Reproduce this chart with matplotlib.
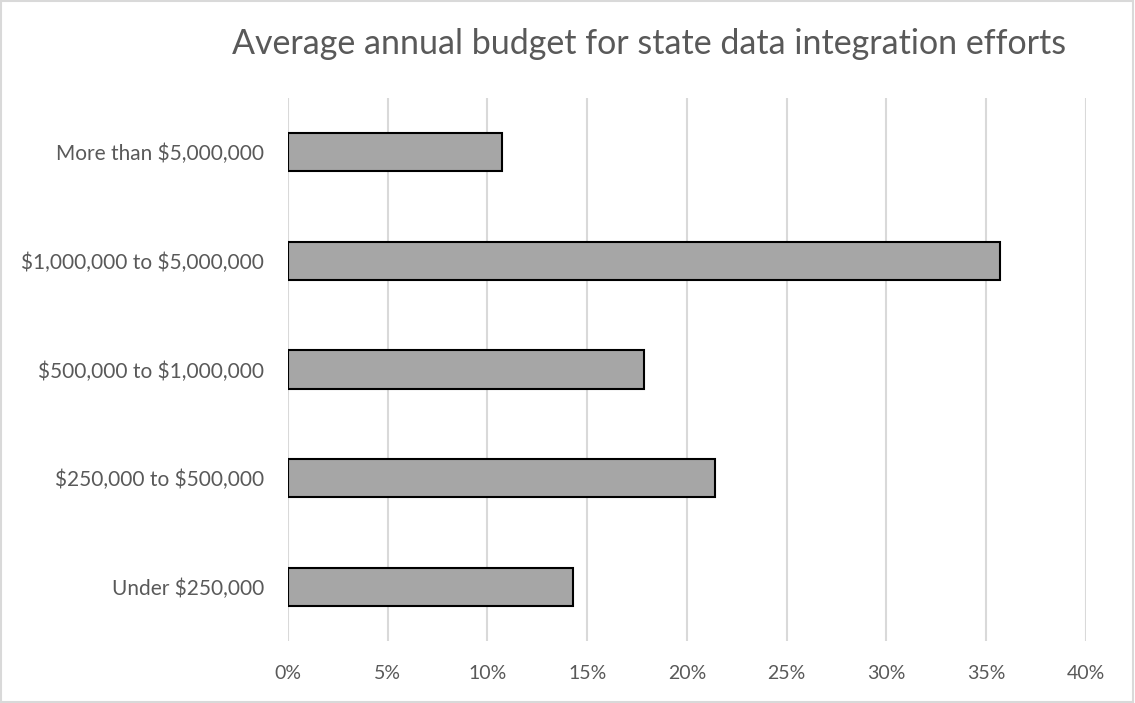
"""Average annual budget for state data integration efforts."""

import matplotlib
matplotlib.use("Agg")
import matplotlib.pyplot as plt
from matplotlib.patches import Rectangle
from matplotlib.ticker import FuncFormatter, MultipleLocator

categories = [
    "Under $250,000",
    "$250,000 to $500,000",
    "$500,000 to $1,000,000",
    "$1,000,000 to $5,000,000",
    "More than $5,000,000",
]
shares = [14.29, 21.43, 17.86, 35.71, 10.71]

plt.rcParams["font.family"] = ["Lato", "DejaVu Sans"]
plt.rcParams["text.parse_math"] = False
text_color = "#595959"

figure = plt.figure(figsize=(11.35, 7.03), dpi=100)
axis = figure.add_axes([0.2537, 0.0882, 0.7031, 0.7724])

axis.barh(
    range(len(categories)),
    shares,
    height=0.35,
    color="#a6a6a6",
    edgecolor="black",
    linewidth=1.5,
    zorder=3,
)
axis.set_xlim(0, 40)
axis.set_ylim(-0.5, len(categories) - 0.5)
axis.set_yticks(range(len(categories)))
axis.set_yticklabels(categories)
axis.xaxis.set_major_locator(MultipleLocator(5))
axis.xaxis.set_major_formatter(FuncFormatter(lambda v, _: f"{v:.0f}%"))
axis.grid(axis="x", color="#d9d9d9", linewidth=1.5, zorder=0)
for spine in axis.spines.values():
    spine.set_visible(False)
axis.tick_params(axis="y", length=0, labelsize=15, labelcolor=text_color, pad=17)
axis.tick_params(axis="x", length=0, labelsize=14, labelcolor=text_color, pad=17)

figure.text(0.572, 0.938, "Average annual budget for state data integration efforts",
            ha="center", va="center", fontsize=24.5, color=text_color)

figure.patches.append(
    Rectangle((0.001, 0.002), 0.997, 0.996, transform=figure.transFigure,
              fill=False, edgecolor="#d9d9d9", linewidth=1.5)
)

figure.savefig("out.png", dpi=100)
